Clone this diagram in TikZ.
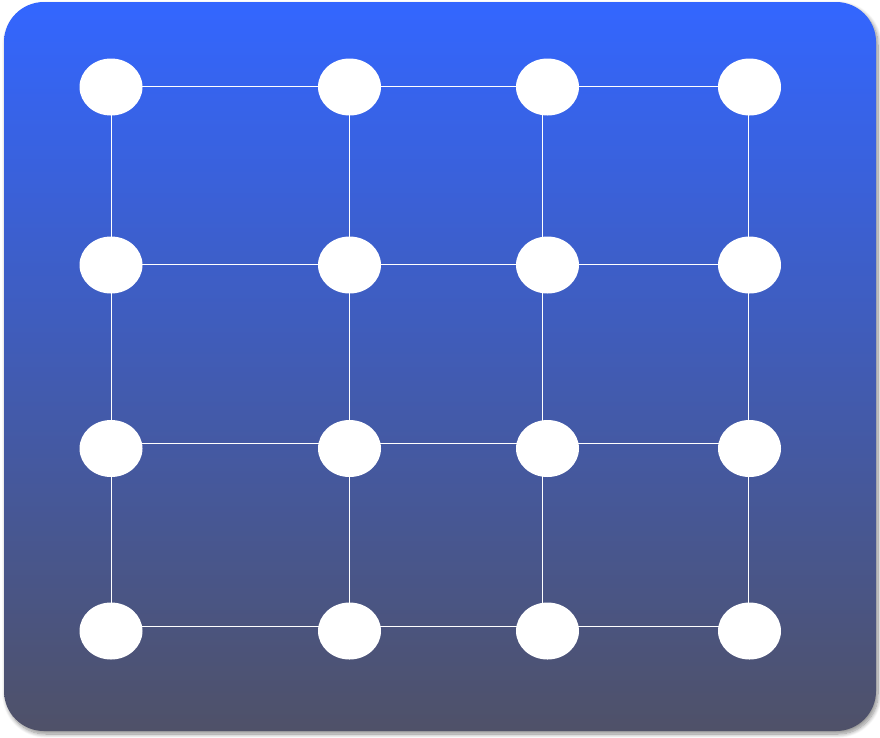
\documentclass[tikz,border=0pt]{standalone}
\usetikzlibrary{shapes.geometric,shadows.blur}
\definecolor{topblue}{RGB}{51,102,255}
\definecolor{botgray}{RGB}{79,81,104}
\pgfdeclarelayer{back}
\pgfdeclarelayer{lines}
\pgfsetlayers{back,lines,main}
\tikzset{
  dot/.style={ellipse,fill=white,draw=none,minimum width=63pt,minimum height=57pt,inner sep=0pt},
  link/.style={white,line width=0.9pt},
  panel/.style={rounded corners=40pt,top color=topblue,bottom color=botgray,
    blur shadow={shadow xshift=2pt,shadow yshift=-3pt,shadow blur steps=10,shadow opacity=45,shadow blur radius=4pt}}
}
\begin{document}
\begin{tikzpicture}[x=1pt,y=-1pt]
\useasboundingbox (0,0) rectangle (880,737);
\begin{pgfonlayer}{back}
\path[panel] (4,2) rectangle (876,731);
\end{pgfonlayer}
% nodes
\foreach \c/\x in {1/111,2/349.5,3/547.5,4/749.5}{
  \foreach \r/\y in {1/87,2/265,3/448.5,4/631}{
    \node[dot] (n\r\c) at (\x,\y) {};
  }
}
\begin{pgfonlayer}{lines}
% horizontal connectors
\foreach \r/\s in {1/1pt,2/1pt,3/5pt,4/5pt}{
  \draw[link] ([yshift=\s]n\r1.center) -- ([yshift=\s]n\r2.center);
  \draw[link] ([yshift=\s]n\r2.center) -- ([yshift=\s]n\r3.center);
  \draw[link] ([yshift=\s]n\r3.center) -- ([yshift=\s]n\r4.center);
}
% vertical connectors
\foreach \c/\s in {1/0.5pt,2/-0.5pt,3/-5pt,4/-1pt}{
  \draw[link] ([xshift=\s]n1\c.center) -- ([xshift=\s]n2\c.center);
  \draw[link] ([xshift=\s]n2\c.center) -- ([xshift=\s]n3\c.center);
  \draw[link] ([xshift=\s]n3\c.center) -- ([xshift=\s]n4\c.center);
}
\end{pgfonlayer}
\end{tikzpicture}
\end{document}
